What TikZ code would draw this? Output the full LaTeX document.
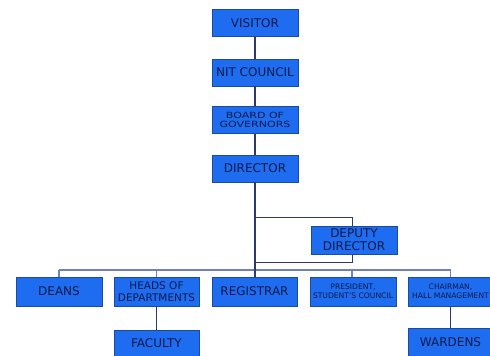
\documentclass[tikz,border=0pt]{standalone}
\usepackage{fontspec}
\setmainfont{DejaVu Sans}
\newfontfamily\widefont[FakeStretch=1.3]{DejaVu Sans}
\definecolor{boxfill}{HTML}{1E6CF0}
\definecolor{boxline}{HTML}{1A4C9E}
\definecolor{boxtext}{HTML}{0A1A4A}
\definecolor{trunk}{HTML}{2A3A72}
\definecolor{bus}{HTML}{7080B8}
\tikzset{
  orgbox/.style={draw=boxline, line width=0.8pt, fill=boxfill, text=boxtext,
    minimum width=86pt, minimum height=27pt, inner sep=0pt, align=center,
    font=\fontsize{12}{13}\selectfont},
  smalltxt/.style={font=\fontsize{7.6}{8.6}\selectfont},
  midtxt/.style={font=\fontsize{10.5}{11.5}\selectfont},
  bogtxt/.style={font=\widefont\fontsize{8.5}{9.5}\selectfont},
  tline/.style={draw=trunk, line width=1.4pt},
  dline/.style={draw=trunk, line width=1pt},
  bline/.style={draw=bus, line width=1.4pt},
}
\begin{document}
\begin{tikzpicture}[x=1pt,y=-1pt]
\useasboundingbox (0,0) rectangle (490,356);
\clip (0,0) rectangle (490,356);
\fill[white] (0,0) rectangle (490,356);
% coordinates for connector routing
\coordinate (busL) at (59,270);
\coordinate (busR) at (450.5,270);
\coordinate (dTop) at (255,217);
\coordinate (dBot) at (255,262);
\coordinate (depTurnA) at (352,217);
\coordinate (depTurnB) at (352,262);
% lines first
\path[bline] (busL) -- (busR);
% nodes
\node[orgbox] (visitor) at (255,23) {VISITOR};
\node[orgbox] (nit) at (255,72.5) {NIT COUNCIL};
\node[orgbox,bogtxt] (bog) at (255,120) {BOARD OF\\GOVERNORS};
\node[orgbox] (director) at (255,168.5) {DIRECTOR};
\node[orgbox,minimum height=28pt] (deputy) at (354,240) {DEPUTY\\DIRECTOR};
\node[orgbox,minimum height=29pt] (deans) at (59,291.5) {DEANS};
\node[orgbox,minimum width=85pt,minimum height=29pt,midtxt] (heads) at (156.5,291.5) {HEADS OF\\DEPARTMENTS};
\node[orgbox,minimum width=85pt,minimum height=29pt] (registrar) at (254.5,291.5) {REGISTRAR};
\node[orgbox,minimum width=86pt,minimum height=29pt,smalltxt] (president) at (353,291.5) {PRESIDENT,\\STUDENT'S COUNCIL};
\node[orgbox,minimum width=85pt,minimum height=29pt,smalltxt] (chairman) at (450.5,291.5) {CHAIRMAN,\\HALL MANAGEMENT};
\node[orgbox,minimum width=85pt,minimum height=27pt] (faculty) at (156.5,343.5) {FACULTY};
\node[orgbox,minimum width=85pt,minimum height=28pt] (wardens) at (450.5,342) {WARDENS};
% connectors
\path[tline] (visitor) -- (nit);
\path[tline] (nit) -- (bog);
\path[tline] (bog) -- (director);
\path[tline] (director.south) -- (registrar.north -| director.south);
\path[dline] (dTop) -- (depTurnA) -- (depTurnA |- deputy.north);
\path[dline] (depTurnB |- deputy.south) -- (depTurnB) -- (dBot);
\path[bline] (busL) -- (deans.north);
\path[bline] (heads.north |- busL) -- (heads.north);
\path[bline] (depTurnA |- busL) -- (president.north -| depTurnA);
\path[bline] (busR) -- (chairman.north);
\path[tline] (heads) -- (faculty);
\path[tline] (chairman) -- (wardens);
\end{tikzpicture}
\end{document}
